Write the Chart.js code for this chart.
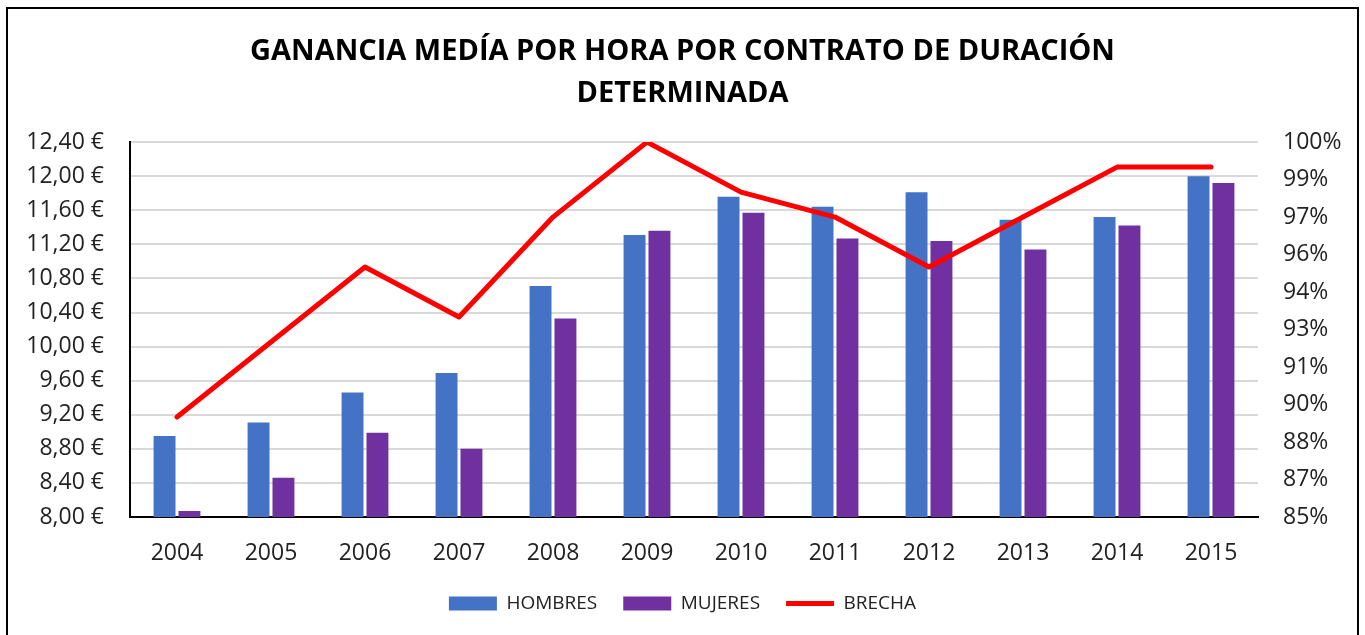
<!DOCTYPE html>
<html>
<head>
<meta charset="utf-8">
<script src="https://cdn.jsdelivr.net/npm/chart.js@4"></script>
<style>
  body { margin: 0; background: #fff; }
  .wrap { position: absolute; left: 0; top: 0; width: 1365px; height: 635px; }
  .frame { position: absolute; left: 6px; top: 7px; width: 1349px; height: 640px; border: 2px solid #000; pointer-events: none; }
</style>
</head>
<body>
<div class="wrap"><canvas id="myChart"></canvas></div>
<div class="frame"></div>
<script>
// datos
var years = ['2004', '2005', '2006', '2007', '2008', '2009', '2010', '2011', '2012', '2013', '2014', '2015'];
var hombres = [8.95, 9.11, 9.46, 9.69, 10.71, 11.31, 11.76, 11.64, 11.81, 11.49, 11.52, 12.00];
var mujeres = [8.07, 8.46, 8.99, 8.80, 10.33, 11.36, 11.57, 11.27, 11.24, 11.14, 11.42, 11.92];
var brecha = [89.0, 92.0, 95.0, 93.0, 97.0, 100.0, 98.0, 97.0, 95.0, 97.0, 99.0, 99.0];
var titulo = ['GANANCIA MEDÍA POR HORA POR CONTRATO DE DURACIÓN', 'DETERMINADA'];

var txt = '#222';
var fuente = 'Open Sans';

const ctx = document.getElementById('myChart');

new Chart(ctx, {
    type: 'bar',
    data: {
        labels: years,
        datasets: [{
            label: 'HOMBRES',
            data: hombres,
            backgroundColor: '#4472c4',
            yAxisID: 'y',
            order: 2,
            categoryPercentage: 0.53,
            barPercentage: 0.88
        }, {
            label: 'MUJERES',
            data: mujeres,
            backgroundColor: '#7030a0',
            yAxisID: 'y',
            order: 2,
            categoryPercentage: 0.53,
            barPercentage: 0.88
        }, {
            label: 'BRECHA',
            type: 'line',
            data: brecha,
            borderColor: '#ff0000',
            backgroundColor: '#ff0000',
            borderWidth: 5,
            borderCapStyle: 'round',
            borderJoinStyle: 'round',
            pointRadius: 0,
            tension: 0,
            yAxisID: 'y1',
            order: 1
        }]
    },
    options: {
        responsive: true,
        maintainAspectRatio: false,
        animation: false,
        layout: { padding: { top: 0, bottom: 12, left: 0, right: 0 } },
        plugins: {
            title: {
                display: true,
                text: titulo,
                color: '#000',
                font: { family: fuente, size: 29, weight: 'bold', lineHeight: 1.45 },
                padding: { top: 31, bottom: 27 }
            },
            legend: {
                position: 'bottom',
                labels: {
                    color: txt,
                    font: { family: fuente, size: 19 },
                    usePointStyle: true,
                    pointStyleWidth: 48,
                    boxHeight: 14,
                    padding: 26,
                    sort: function(a, b) { return a.datasetIndex - b.datasetIndex; },
                    generateLabels: function(chart) {
                        var items = Chart.defaults.plugins.legend.labels.generateLabels(chart);
                        items.forEach(function(it) {
                            if (it.datasetIndex === 2) {
                                it.pointStyle = 'line';
                                it.lineWidth = 5;
                                it.strokeStyle = '#ff0000';
                            } else {
                                it.pointStyle = 'rect';
                                it.lineWidth = 0;
                            }
                        });
                        return items;
                    }
                }
            },
            tooltip: { enabled: false }
        },
        scales: {
            x: {
                grid: { display: false, drawTicks: false },
                border: { color: '#000', width: 2 },
                ticks: { color: txt, font: { family: fuente, size: 23 }, padding: 23 },
                afterFit: function(scale) { scale.height = 51; }
            },
            y: {
                position: 'left',
                min: 8,
                max: 12.4,
                ticks: {
                    stepSize: 0.4,
                    color: txt,
                    font: { family: fuente, size: 23 },
                    padding: 26,
                    callback: function(v) { return v.toFixed(2).replace('.', ',') + ' €'; }
                },
                grid: { color: '#d9d9d9', lineWidth: 2, drawTicks: false },
                border: { color: '#000', width: 2 },
                afterFit: function(scale) { scale.width = 130; }
            },
            y1: {
                position: 'right',
                min: 85,
                max: 100,
                ticks: {
                    stepSize: 1.5,
                    color: txt,
                    font: { family: fuente, size: 23 },
                    padding: 25,
                    callback: function(v) { return Math.round(v) + '%'; }
                },
                grid: { display: false, drawTicks: false },
                border: { display: false },
                afterFit: function(scale) { scale.width = 107; }
            }
        }
    }
});
</script>
</body>
</html>
